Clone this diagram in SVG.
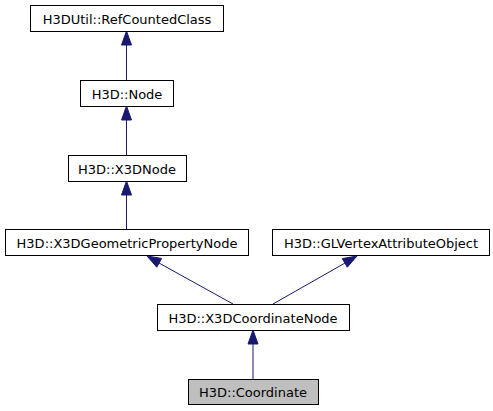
<svg xmlns="http://www.w3.org/2000/svg" width="493" height="411" viewBox="0 0 493 411">
<style>
.n rect{fill:#ffffff;stroke:#000000;stroke-width:1}
.n.cur rect{fill:#bfbfbf}
.n text{font-family:"DejaVu Sans",sans-serif;font-size:13px;fill:#000000;text-anchor:middle}
.e path{fill:none;stroke:#191970;stroke-width:1}
.e polygon{fill:#191970;stroke:#191970;stroke-width:1}
</style>
<rect width="493" height="411" fill="#ffffff"/>
<g class="e" id="edges">
<path d="M126.5,80 L126.5,45"/>
<polygon points="121.5,45 126.5,31 131.5,45"/>
<path d="M126.5,155 L126.5,120"/>
<polygon points="121.5,120 126.5,106 131.5,120"/>
<path d="M126.5,229 L126.5,195"/>
<polygon points="121.5,195 126.5,181 131.5,195"/>
<path d="M233,304 L159,263"/>
<polygon points="161.6,258.4 147,256 156.8,267.2"/>
<path d="M273,304 L345,263"/>
<polygon points="347.3,267.2 357,256 342.3,258.6"/>
<path d="M253,379 L253,344"/>
<polygon points="248,344 253,330 258,344"/>
</g>
<g class="n" id="node_refcounted"><rect x="30.5" y="5.5" width="193" height="26"/><text x="127" y="23.5">H3DUtil::RefCountedClass</text></g>
<g class="n" id="node_node"><rect x="80.5" y="80.5" width="93" height="26"/><text x="127" y="98.5">H3D::Node</text></g>
<g class="n" id="node_x3dnode"><rect x="68.5" y="155.5" width="118" height="26"/><text x="127" y="173.5">H3D::X3DNode</text></g>
<g class="n" id="node_geomprop"><rect x="5.5" y="229.5" width="243" height="26"/><text x="127" y="247.5">H3D::X3DGeometricPropertyNode</text></g>
<g class="n" id="node_glvertex"><rect x="272.5" y="229.5" width="217" height="26"/><text x="381" y="247.5">H3D::GLVertexAttributeObject</text></g>
<g class="n" id="node_coordnode"><rect x="157.5" y="304.5" width="192" height="26"/><text x="253" y="322.5">H3D::X3DCoordinateNode</text></g>
<g class="n cur" id="node_coordinate"><rect x="188.5" y="379.5" width="130" height="25"/><text x="253" y="397">H3D::Coordinate</text></g>
</svg>
